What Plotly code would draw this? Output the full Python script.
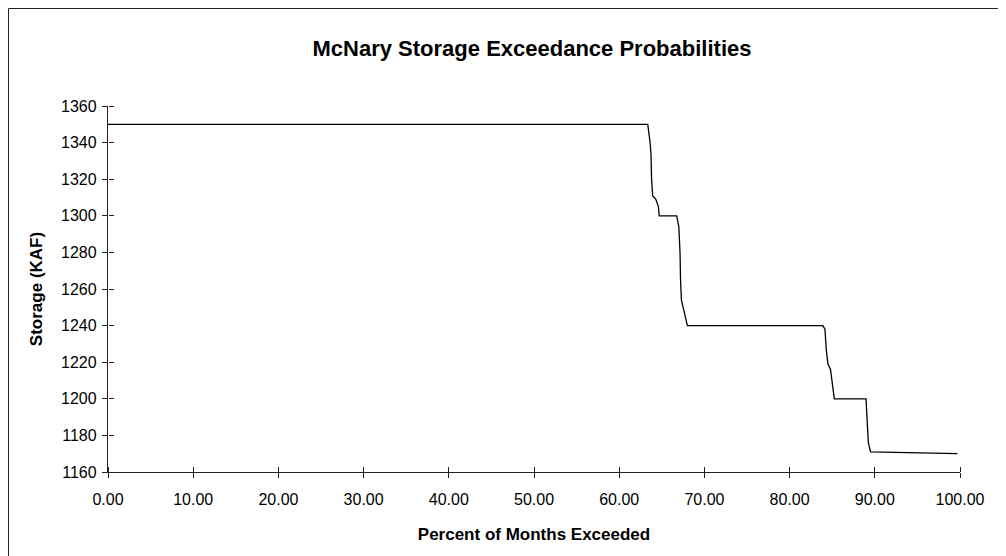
import plotly.graph_objects as go

# Percent of months exceeded vs storage (KAF)
pct_exceeded = [0, 63.35, 63.6, 63.73, 63.8, 63.93, 64.3, 64.6, 64.7, 66.75, 67.0, 67.14,
                67.2, 67.3, 67.6, 68.0, 83.9, 84.15, 84.3, 84.5, 84.8, 85.06, 85.25,
                88.97, 89.1, 89.24, 89.5, 99.7]
storage_kaf = [1350, 1350, 1341, 1334, 1320, 1311, 1309, 1305, 1300, 1300, 1294, 1280,
               1265, 1254, 1248, 1240, 1240, 1238, 1227, 1219, 1216, 1208, 1200,
               1200, 1190, 1176, 1171, 1170]

x_ticks = [0, 10, 20, 30, 40, 50, 60, 70, 80, 90, 100]
x_tick_labels = [f"{v:.2f}" for v in x_ticks]
y_ticks = list(range(1160, 1361, 20))

FONT = "Liberation Sans, Arial, sans-serif"

W, H = 1006, 556
OFF = 8  # page body margin offset
# plot area in screen pixels
SL, SR, ST, SB = 108, 960, 106, 472
L, T = SL - OFF, ST - OFF
R, B = W - (SR - OFF), H - (SB - OFF)
pw, ph = W - L - R, H - T - B

def px_x(p):
    return (p - L) / pw

def px_y(p):
    return (H - B - p) / ph

fig = go.Figure()
fig.add_trace(go.Scatter(x=pct_exceeded, y=storage_kaf, mode="lines",
                         line=dict(color="black", width=1.3), showlegend=False,
                         hoverinfo="x+y"))
# same data on overlaid axes (used only to draw the inner half of crossing ticks)
fig.add_trace(go.Scatter(x=pct_exceeded, y=storage_kaf, mode="lines", xaxis="x2",
                         yaxis="y2", line=dict(color="rgba(0,0,0,0)", width=1),
                         showlegend=False, hoverinfo="skip"))

AX = "#222222"
fig.update_layout(
    width=W, height=H,
    margin=dict(l=L, r=R, t=T, b=B),
    paper_bgcolor="white", plot_bgcolor="white",
    font=dict(family=FONT, color="black", size=16),
    title=dict(text="<b>McNary Storage Exceedance Probabilities</b>",
               x=(532 - OFF) / W, xanchor="center", y=1 - (48 - OFF) / H,
               yanchor="middle", font=dict(size=22, family=FONT, color="black")),
    xaxis=dict(range=[0, 100], tickvals=x_ticks, ticktext=x_tick_labels,
               showgrid=False, zeroline=False, showline=True, linecolor=AX,
               linewidth=1.3, ticks="outside", ticklen=5, tickcolor=AX,
               tickwidth=1.3, tickfont=dict(size=16), ticklabelstandoff=8,
               title=dict(text="<b>Percent of Months Exceeded</b>", standoff=20,
                          font=dict(size=17))),
    yaxis=dict(range=[1160, 1360], tickvals=y_ticks, showgrid=False, zeroline=False,
               showline=True, linecolor=AX, linewidth=1.3, ticks="outside",
               ticklen=5, tickcolor=AX, tickwidth=1.3, tickfont=dict(size=16),
               ticklabelstandoff=2,
               title=dict(text="<b>Storage (KAF)</b>", standoff=14,
                          font=dict(size=17))),
    xaxis2=dict(overlaying="x", anchor="free", position=0, side="top",
                range=[0, 100], tickvals=x_ticks, showticklabels=False,
                showgrid=False, zeroline=False, showline=False, ticks="outside",
                ticklen=5, tickcolor=AX, tickwidth=1.3),
    yaxis2=dict(overlaying="y", anchor="free", position=0, side="right",
                range=[1160, 1360], tickvals=y_ticks, showticklabels=False,
                showgrid=False, zeroline=False, showline=False, ticks="outside",
                ticklen=5, tickcolor=AX, tickwidth=1.3),
)

# outer chart frame: only the left and top edges are visible in the original
fig.add_shape(type="line", xref="paper", yref="paper",
              x0=px_x(0.5), x1=px_x(0.5), y0=px_y(H), y1=px_y(0.5),
              line=dict(color="#222222", width=1), layer="below")
fig.add_shape(type="line", xref="paper", yref="paper",
              x0=px_x(0.5), x1=px_x(W), y0=px_y(0.5), y1=px_y(0.5),
              line=dict(color="#222222", width=1), layer="below")

fig.write_html("out.html")
